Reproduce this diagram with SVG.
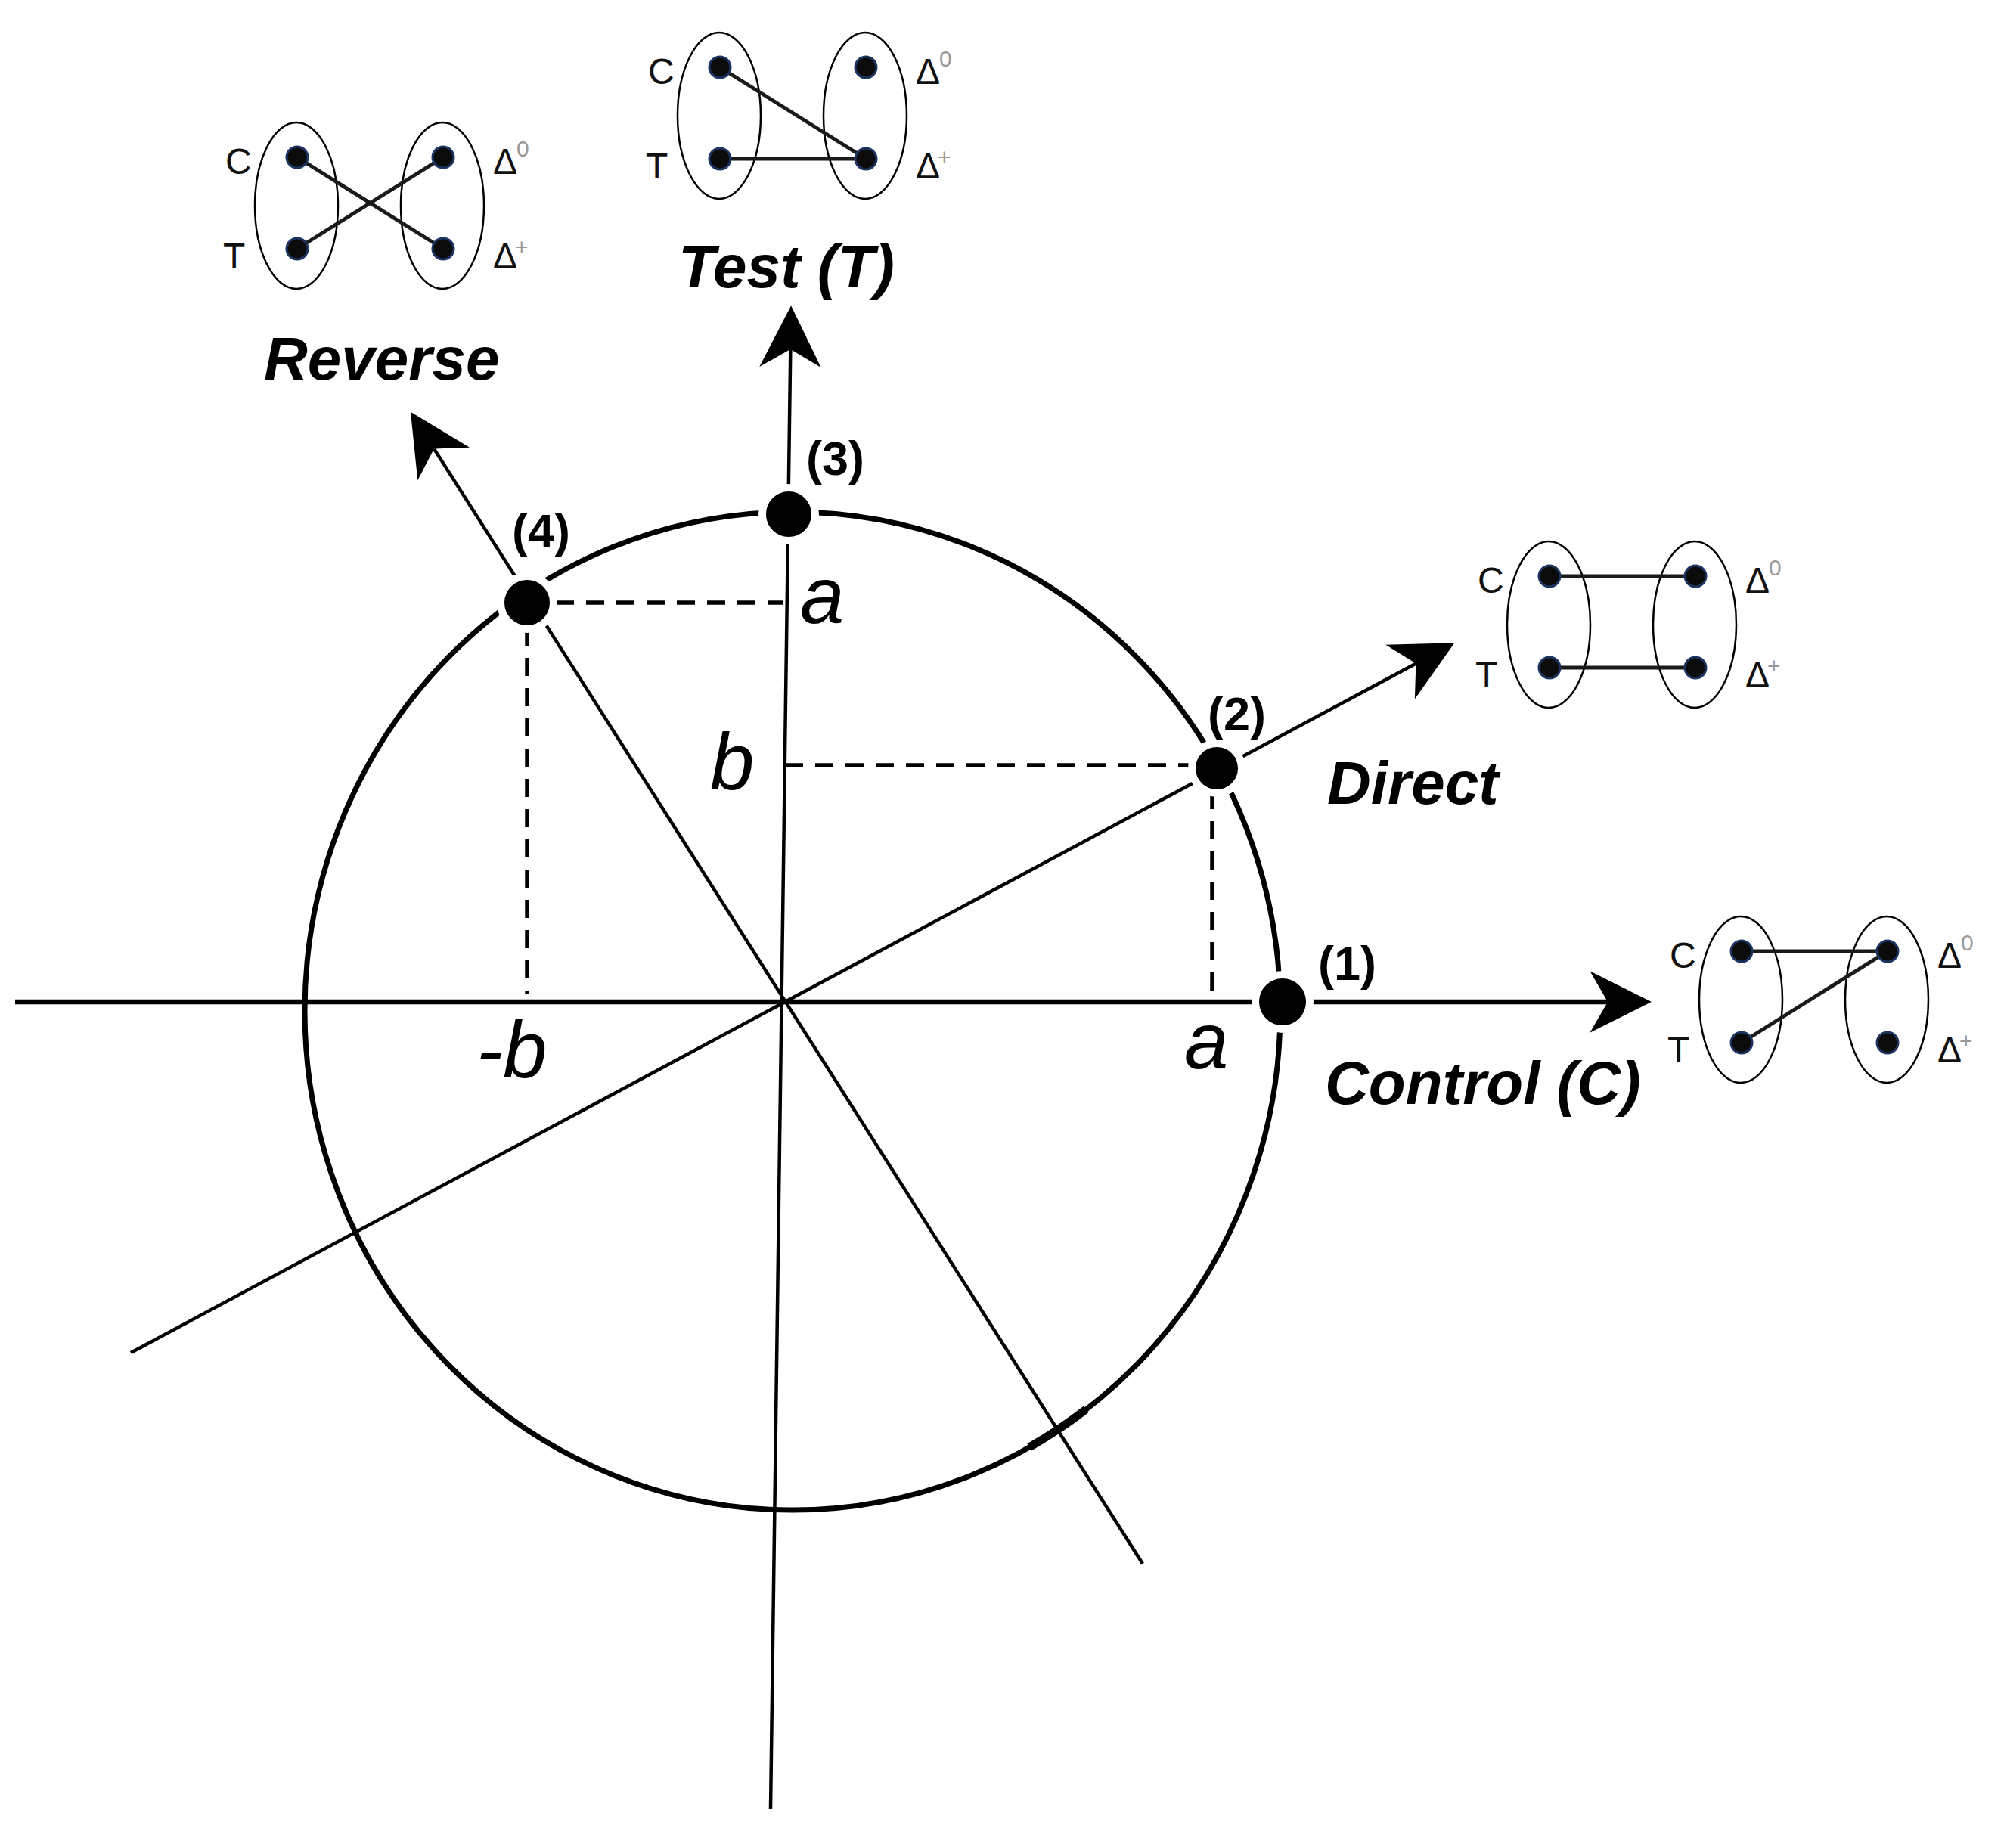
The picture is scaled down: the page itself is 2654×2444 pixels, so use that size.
<svg xmlns="http://www.w3.org/2000/svg" width="2654" height="2444" viewBox="0 0 2654 2444">
<style>
.ax{stroke:#000;fill:none;stroke-width:4.5}
.axh{stroke:#000;fill:none;stroke-width:6.5}
.circ{fill:none;stroke:#000;stroke-width:7}
.dash{stroke:#000;stroke-width:5.5;stroke-dasharray:24 16;fill:none}
.pt{fill:#000;stroke:#fff;stroke-width:10}
.lbl{font-family:"Liberation Sans",Arial,sans-serif;font-weight:bold;font-style:italic;font-size:80px;fill:#000}
.num{font-family:"Liberation Sans",Arial,sans-serif;font-weight:bold;font-size:63px;fill:#000}
.var{font-family:"Liberation Sans",Arial,sans-serif;font-style:italic;font-size:105px;fill:#000}
.ell{fill:none;stroke:#000;stroke-width:2.5}
.dot{fill:#0b0b0b;stroke:#1d3461;stroke-width:3}
.ml{stroke:#1a1a1a;stroke-width:5}
.ct{font-family:"Liberation Sans",Arial,sans-serif;font-size:48px;fill:#111}
.sup{font-family:"Liberation Sans",Arial,sans-serif;font-size:30px;fill:#999}
</style>
<defs>
<marker id="ah" markerUnits="userSpaceOnUse" markerWidth="90" markerHeight="90" viewBox="-80 -42 84 84" refX="-54" refY="0" orient="auto">
<path d="M0,0 L-76,-38 L-54,0 L-76,38 Z" fill="#000"/>
</marker>
</defs>
<rect width="2654" height="2444" fill="#fff"/>

<g id="circle">
<ellipse class="circ" cx="1048" cy="1337" rx="645" ry="660"/>
<path d="M1436,1864 A645,660 0 0,1 1361,1914" fill="none" stroke="#000" stroke-width="11"/>
</g>

<g id="connectors">
<line class="axh" x1="20" y1="1325" x2="2126" y2="1325" marker-end="url(#ah)"/>
<line class="ax" x1="1019" y1="2392" x2="1045.3" y2="462" marker-end="url(#ah)"/>
<line class="ax" x1="173" y1="1789" x2="1872.4" y2="877.5" marker-end="url(#ah)"/>
<line class="ax" x1="1511" y1="2068" x2="574" y2="593.6" marker-end="url(#ah)"/>
<line class="dash" x1="735" y1="797" x2="1036" y2="797"/>
<line class="dash" x1="697" y1="830" x2="697" y2="1314"/>
<line class="dash" x1="1038" y1="1012" x2="1580" y2="1012"/>
<line class="dash" x1="1603" y1="1046" x2="1603" y2="1318"/>
</g>

<g id="points">
<circle class="pt" cx="1696" cy="1325" r="36"/>
<circle class="pt" cx="1609" cy="1016" r="33"/>
<circle class="pt" cx="1043" cy="680" r="35"/>
<circle class="pt" cx="697" cy="797" r="35"/>
<text class="num" x="1743" y="1296">(1)</text>
<text class="num" x="1597" y="966">(2)</text>
<text class="num" x="1066" y="628">(3)</text>
<text class="num" x="677" y="724">(4)</text>
</g>

<g id="axis-values">
<text class="var" x="1058" y="824">a</text>
<text class="var" x="939" y="1044">b</text>
<text class="var" x="630" y="1425">-b</text>
<text class="var" x="1566" y="1413">a</text>
</g>

<g id="reverse" transform="translate(392,272)">
<ellipse class="ell" cx="0" cy="0" rx="55" ry="110"/>
<ellipse class="ell" cx="193" cy="0" rx="55" ry="110"/>
<line class="ml" x1="1" y1="-64" x2="194" y2="57"/>
<line class="ml" x1="1" y1="57" x2="194" y2="-64"/>
<circle class="dot" cx="1" cy="-64" r="14"/>
<circle class="dot" cx="1" cy="57" r="14"/>
<circle class="dot" cx="194" cy="-64" r="14"/>
<circle class="dot" cx="194" cy="57" r="14"/>
<text class="ct" x="-94" y="-42">C</text>
<text class="ct" x="-97" y="83">T</text>
<text class="ct" x="260" y="-42">Δ</text>
<text class="sup" x="291" y="-65">0</text>
<text class="ct" x="260" y="83">Δ</text>
<text class="sup" x="289" y="65">+</text>
<text class="lbl" x="-43" y="230">Reverse</text>
</g>

<g id="test" transform="translate(951,153)">
<ellipse class="ell" cx="0" cy="0" rx="55" ry="110"/>
<ellipse class="ell" cx="193" cy="0" rx="55" ry="110"/>
<line class="ml" x1="1" y1="-64" x2="194" y2="57"/>
<line class="ml" x1="1" y1="57" x2="194" y2="57"/>
<circle class="dot" cx="1" cy="-64" r="14"/>
<circle class="dot" cx="1" cy="57" r="14"/>
<circle class="dot" cx="194" cy="-64" r="14"/>
<circle class="dot" cx="194" cy="57" r="14"/>
<text class="ct" x="-94" y="-42">C</text>
<text class="ct" x="-97" y="83">T</text>
<text class="ct" x="260" y="-42">Δ</text>
<text class="sup" x="291" y="-65">0</text>
<text class="ct" x="260" y="83">Δ</text>
<text class="sup" x="289" y="65">+</text>
<text class="lbl" x="-54" y="227">Test (T)</text>
</g>

<g id="direct" transform="translate(2048,826)">
<ellipse class="ell" cx="0" cy="0" rx="55" ry="110"/>
<ellipse class="ell" cx="193" cy="0" rx="55" ry="110"/>
<line class="ml" x1="1" y1="-64" x2="194" y2="-64"/>
<line class="ml" x1="1" y1="57" x2="194" y2="57"/>
<circle class="dot" cx="1" cy="-64" r="14"/>
<circle class="dot" cx="1" cy="57" r="14"/>
<circle class="dot" cx="194" cy="-64" r="14"/>
<circle class="dot" cx="194" cy="57" r="14"/>
<text class="ct" x="-94" y="-42">C</text>
<text class="ct" x="-97" y="83">T</text>
<text class="ct" x="260" y="-42">Δ</text>
<text class="sup" x="291" y="-65">0</text>
<text class="ct" x="260" y="83">Δ</text>
<text class="sup" x="289" y="65">+</text>
<text class="lbl" x="-293" y="237">Direct</text>
</g>

<g id="control" transform="translate(2302,1322)">
<ellipse class="ell" cx="0" cy="0" rx="55" ry="110"/>
<ellipse class="ell" cx="193" cy="0" rx="55" ry="110"/>
<line class="ml" x1="1" y1="-64" x2="194" y2="-64"/>
<line class="ml" x1="1" y1="57" x2="194" y2="-64"/>
<circle class="dot" cx="1" cy="-64" r="14"/>
<circle class="dot" cx="1" cy="57" r="14"/>
<circle class="dot" cx="194" cy="-64" r="14"/>
<circle class="dot" cx="194" cy="57" r="14"/>
<text class="ct" x="-94" y="-42">C</text>
<text class="ct" x="-97" y="83">T</text>
<text class="ct" x="260" y="-42">Δ</text>
<text class="sup" x="291" y="-65">0</text>
<text class="ct" x="260" y="83">Δ</text>
<text class="sup" x="289" y="65">+</text>
<text class="lbl" x="-550" y="138">Control (C)</text>
</g>
</svg>
